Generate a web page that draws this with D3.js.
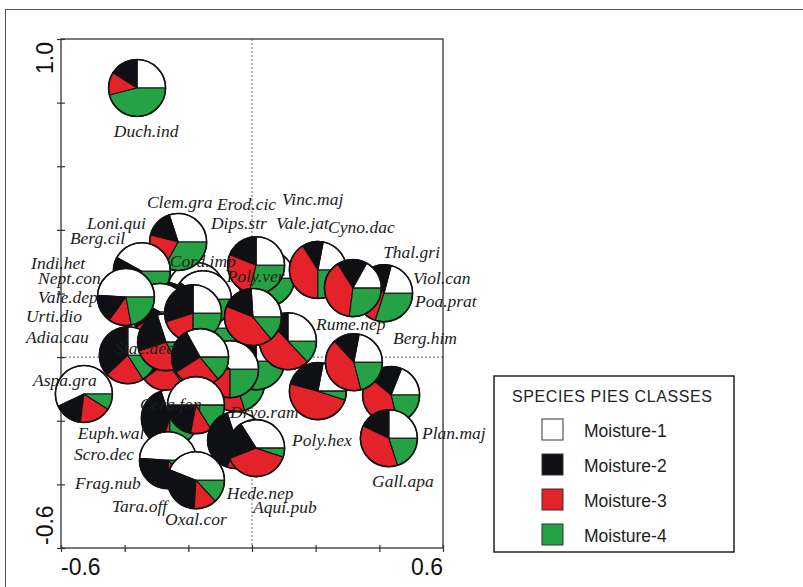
<!DOCTYPE html>
<html><head><meta charset="utf-8">
<script src="https://cdn.jsdelivr.net/npm/d3@7"></script>
<style>body{margin:0;background:#fff}svg{display:block}</style>
</head><body><svg id="c" width="803" height="587"></svg>
<script>
// ---- data (drawing order: back to front) ----
const species = ["Indi.het","Poa.prat","Tara.off","Cord.imp","Erod.cic","Poly.ver","Clem.gra","Loni.qui","Berg.cil","Vale.dep",
  "Frag.nub","Stac.dec","Urti.dio","Nept.con","Thal.gri","Dryo.ram","Adia.cau","Dips.str","Rume.nep","Vinc.maj",
  "Vale.jat","Viol.can","Cyno.dac","Poly.hex","Plan.maj","Berg.him","Gall.apa","Euph.wal","Cera.fon","Hede.nep",
  "Aqui.pub","Scro.dec","Oxal.cor","Aspa.gra","Duch.ind"];
const scoreX = [-0.226,-0.050,-0.126,-0.176,-0.154,0.044,-0.232,-0.346,-0.289,-0.396,
  -0.267,-0.390,-0.270,-0.185,0.013,-0.069,-0.163,0.013,0.113,0.003,
  0.207,0.415,0.317,0.207,0.437,0.320,0.430,-0.258,-0.176,-0.050,
  0.013,-0.264,-0.176,-0.528,-0.361];
const scoreY = [0.226,-0.082,0.091,0.208,0.182,0.248,0.362,0.270,0.142,0.189,
  -0.016,0.006,0.047,0.138,-0.013,-0.038,0.000,0.289,0.050,0.126,
  0.274,0.201,0.217,-0.107,-0.119,-0.016,-0.255,-0.192,-0.151,-0.261,
  -0.286,-0.324,-0.387,-0.116,0.846];
const moisture1 = [45,30,35,45,40,35,30,42,42,49, 30,25,30,25,25,40,33,25,25,26, 22,21,17,22,19,22,25,30,50,30, 34,49,44,57,25];
const moisture2 = [15,15,20,15,15,10,16,8,17,16, 30,37,25,30,15,10,26,19,12,18, 12,14,17,24,20,15,18,40,22,40, 22,28,30,16,16];
const moisture3 = [15,35,25,15,20,25,21,20,16,13, 25,22,28,20,30,25,27,27,50,42, 41,35,39,49,40,42,37,5,12,20, 39,10,13,18,13];
const moisture4 = [25,20,20,25,25,30,33,30,25,22, 15,16,17,25,30,25,14,29,13,14, 25,30,27,5,21,21,20,25,16,10, 5,13,13,9,46];
// label anchor points (data units)
const labelSpecies = ["Duch.ind","Clem.gra","Erod.cic","Vinc.maj","Loni.qui","Dips.str","Vale.jat","Cyno.dac","Berg.cil","Thal.gri",
  "Indi.het","Cord.imp","Poly.ver","Nept.con","Viol.can","Vale.dep","Poa.prat","Urti.dio","Rume.nep","Adia.cau",
  "Berg.him","Stac.dec","Aspa.gra","Cera.fon","Dryo.ram","Plan.maj","Euph.wal","Poly.hex","Scro.dec","Gall.apa",
  "Frag.nub","Hede.nep","Aqui.pub","Tara.off","Oxal.cor"];
const labelX = [-0.434,-0.330,-0.110,0.094,-0.518,-0.129,0.075,0.239,-0.572,0.412,
  -0.694,-0.258,-0.079,-0.672,0.506,-0.672,0.512,-0.710,0.201,-0.710,
  0.443,-0.430,-0.688,-0.352,-0.069,0.534,-0.547,0.126,-0.559,0.377,
  -0.556,-0.079,0.003,-0.440,-0.273];
const labelY = [0.692,0.469,0.462,0.478,0.403,0.403,0.403,0.390,0.355,0.311,
  0.277,0.283,0.236,0.230,0.230,0.170,0.157,0.110,0.085,0.044,
  0.041,0.009,-0.091,-0.167,-0.192,-0.258,-0.258,-0.280,-0.324,-0.409,
  -0.415,-0.447,-0.491,-0.487,-0.528];
const classes = ["Moisture-1","Moisture-2","Moisture-3","Moisture-4"];
const classColors = ["#ffffff","#0e1014","#e4222a","#25a244"];
const xTicks = [-0.6,-0.4,-0.2,0,0.2,0.4,0.6];
const yTicks = [-0.6,-0.4,-0.2,0,0.2,0.4,0.6,0.8,1.0];
const xTickLabels = [{v:-0.6,t:"-0.6"},{v:0.6,t:"0.6"}];
const yTickLabels = [{v:-0.6,t:"-0.6"},{v:1.0,t:"1.0"}];
const legendTitle = "SPECIES PIES CLASSES";

// ---- drawing ----
const svg = d3.select("#c");
const x = d3.scaleLinear().domain([-0.6,0.6]).range([61,443]);
const y = d3.scaleLinear().domain([-0.6,1.0]).range([548,39]);
const R = 28.5;

svg.append("rect").attr("x",5.5).attr("y",9.5).attr("width",900).attr("height",700)
  .attr("fill","none").attr("stroke","#555").attr("stroke-width",1);

// zero lines
svg.append("line").attr("x1",x(0)).attr("x2",x(0)).attr("y1",y(1.0)).attr("y2",y(-0.6))
  .attr("stroke","#444").attr("stroke-width",0.8).attr("stroke-dasharray","2,2");
svg.append("line").attr("x1",x(-0.6)).attr("x2",x(0.6)).attr("y1",y(0)).attr("y2",y(0))
  .attr("stroke","#444").attr("stroke-width",0.8).attr("stroke-dasharray","2,2");

// frame
svg.append("rect").attr("x",x(-0.6)).attr("y",y(1.0)).attr("width",x(0.6)-x(-0.6)).attr("height",y(-0.6)-y(1.0))
  .attr("fill","none").attr("stroke","#333").attr("stroke-width",1.3);

// axes ticks
const gx = svg.append("g").attr("transform",`translate(0,${y(-0.6)+4})`)
  .call(d3.axisBottom(x).tickValues(xTicks).tickSize(-7).tickFormat(""));
gx.select(".domain").remove();
gx.selectAll("line").attr("stroke","#333").attr("stroke-width",1.2);
const gy = svg.append("g").attr("transform",`translate(${x(-0.6)-4},0)`)
  .call(d3.axisLeft(y).tickValues(yTicks).tickSize(-8).tickFormat(""));
gy.select(".domain").remove();
gy.selectAll("line").attr("stroke","#333").attr("stroke-width",1.2);

// tick labels
svg.selectAll("text.xl").data(xTickLabels).enter().append("text").attr("class","xl")
  .attr("x",d=>x(d.v)).attr("y",575)
  .attr("text-anchor",(d,i)=>i===0?"start":"end")
  .attr("font-family","Liberation Sans, Arial, sans-serif").attr("font-size",23).attr("fill","#111")
  .text(d=>d.t);
svg.selectAll("text.yl").data(yTickLabels).enter().append("text").attr("class","yl")
  .attr("transform",d=>`translate(53,${y(d.v)}) rotate(-90)`)
  .attr("x",(d,i)=>i===0?3:-3)
  .attr("text-anchor",(d,i)=>i===0?"start":"end")
  .attr("font-family","Liberation Sans, Arial, sans-serif").attr("font-size",23).attr("fill","#111")
  .text(d=>d.t);

// labels that sit beneath pies in the reference
const underLabels = ["Vale.dep","Nept.con"];
const labelFont = "Liberation Serif, 'Times New Roman', serif";
function drawLabels(sel, filt){
  sel.selectAll("text").data(labelSpecies.map((d,i)=>({d,i})).filter(filt)).enter().append("text")
    .attr("x",o=>x(labelX[o.i])).attr("y",o=>y(labelY[o.i]))
    .attr("font-family",labelFont).attr("font-style","italic")
    .attr("font-size",17.5).attr("fill","#1c1c1c").text(o=>o.d);
}
drawLabels(svg.append("g"), o=>underLabels.includes(o.d));

// pies
const pie = d3.pie().sort(null).value(v=>v).startAngle(Math.PI/2).endAngle(Math.PI/2-2*Math.PI);
const arc = d3.arc().innerRadius(0).outerRadius(R);
const pieData = species.map((s,i)=>({name:s, px:scoreX[i], py:scoreY[i],
  vals:[moisture1[i],moisture2[i],moisture3[i],moisture4[i]]}));
const pg = svg.append("g");
pieData.forEach(d=>{
  const g = pg.append("g").attr("transform",`translate(${x(d.px)},${y(d.py)})`);
  g.selectAll("path").data(pie(d.vals)).enter().append("path")
    .attr("d",arc).attr("fill",(p,i)=>classColors[i])
    .attr("stroke","#111").attr("stroke-width",1.1).attr("stroke-linejoin","round");
  g.append("circle").attr("r",R).attr("fill","none").attr("stroke","#111").attr("stroke-width",1.6);
});

// species labels on top
drawLabels(svg.append("g"), o=>!underLabels.includes(o.d));

// legend
const lg = svg.append("g");
lg.append("rect").attr("x",494).attr("y",376).attr("width",240).attr("height",176)
  .attr("fill","#fff").attr("stroke","#222").attr("stroke-width",1.5);
lg.append("text").attr("x",512).attr("y",402).attr("font-family","Liberation Sans, Arial, sans-serif")
  .attr("font-size",16).attr("letter-spacing",0.6).attr("fill","#222").text(legendTitle);
classes.forEach((c,i)=>{
  lg.append("rect").attr("x",542).attr("y",419+i*35).attr("width",21).attr("height",21)
    .attr("fill",classColors[i]).attr("stroke","#333").attr("stroke-width",1);
  lg.append("text").attr("x",584).attr("y",437+i*35).attr("font-family","Liberation Sans, Arial, sans-serif")
    .attr("font-size",17.5).attr("fill","#222").text(c);
});
</script>
</body></html>
